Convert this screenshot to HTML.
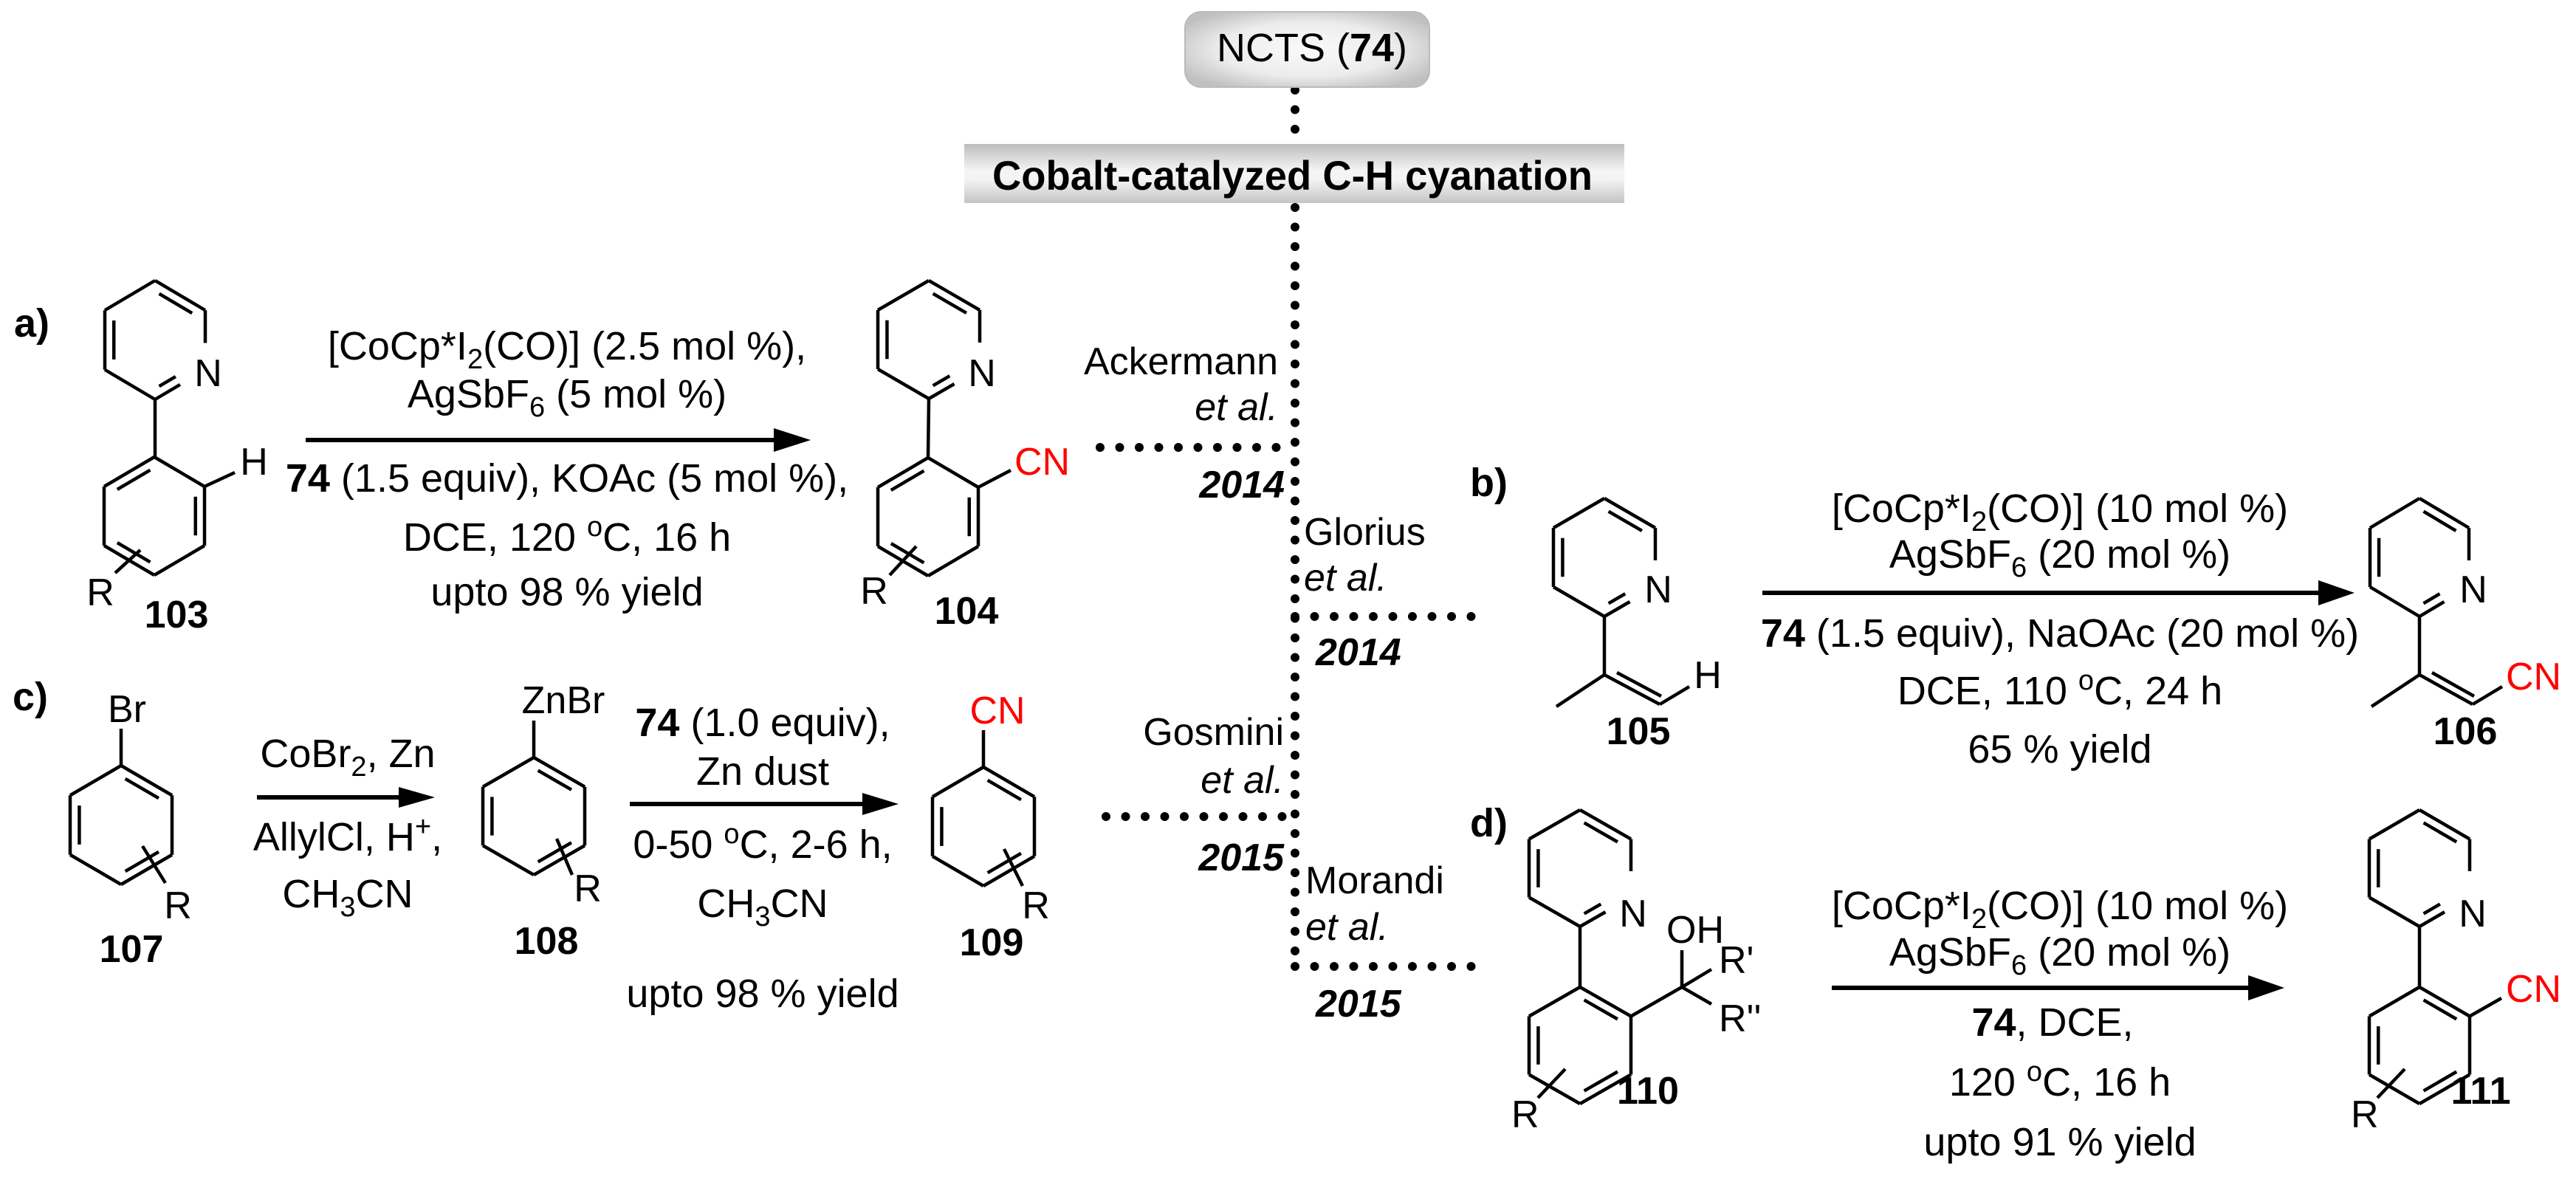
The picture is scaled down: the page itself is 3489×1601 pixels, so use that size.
<!DOCTYPE html>
<html><head><meta charset="utf-8">
<style>
html,body{margin:0;padding:0;background:#fff;}
svg{display:block;}
text{font-family:"Liberation Sans",Arial,sans-serif;fill:#000;}
.c{font-size:54px;text-anchor:middle;}
.b{font-weight:bold;}
.lab{font-size:52px;font-weight:bold;text-anchor:middle;}
.at{font-size:52px;}
.red{fill:#f00;}
</style></head>
<body>
<svg id="s" width="3489" height="1601" viewBox="0 0 3489 1601" xmlns="http://www.w3.org/2000/svg">
<defs>
<linearGradient id="gb" x1="0" y1="0" x2="0" y2="1">
<stop offset="0" stop-color="#bdbdbd"/><stop offset="0.45" stop-color="#f4f4f4"/><stop offset="0.6" stop-color="#f4f4f4"/><stop offset="1" stop-color="#c4c4c4"/>
</linearGradient>
<radialGradient id="gn" cx="0.5" cy="0.5" r="0.6">
<stop offset="0" stop-color="#fafafa"/><stop offset="0.6" stop-color="#ececec"/><stop offset="1" stop-color="#c0c0c0"/>
</radialGradient>
</defs>

<g stroke="#000" stroke-linecap="round" fill="none">
<g stroke-width="12" stroke-dasharray="0 26.5">
<line x1="1754" y1="122" x2="1754" y2="1309"/>
<line x1="1490" y1="606" x2="1754" y2="606"/>
<line x1="1754" y1="835" x2="2019" y2="835"/>
<line x1="1498" y1="1106" x2="1754" y2="1106"/>
<line x1="1754" y1="1309" x2="2006" y2="1309"/>
</g>
</g>

<rect x="1605" y="16" width="331" height="102" rx="22" fill="url(#gn)" stroke="#bbb" stroke-width="2"/>
<text x="1777" y="83" style="font-size:54px;text-anchor:middle">NCTS (<tspan class="b">74</tspan>)</text>
<rect x="1306" y="195" width="894" height="80" fill="url(#gb)"/>
<text x="1344" y="257" class="b" style="font-size:56px" textLength="813" lengthAdjust="spacingAndGlyphs">Cobalt-catalyzed C-H cyanation</text>

<g id="bonds" stroke="#000" stroke-width="4.5" fill="none" stroke-linecap="butt" stroke-linejoin="miter"></g>

<g stroke="#000" stroke-width="6">
<line x1="414" y1="596" x2="1060" y2="596"/>
<line x1="2387" y1="803" x2="3150" y2="803"/>
<line x1="348" y1="1080" x2="552" y2="1080"/>
<line x1="853" y1="1089" x2="1180" y2="1089"/>
<line x1="2481" y1="1338" x2="3056" y2="1338"/>
</g>
<g fill="#000">
<polygon points="1098,596 1048,580 1048,612"/>
<polygon points="3189,803 3140,786 3140,820"/>
<polygon points="589,1080 540,1066 540,1094"/>
<polygon points="1217,1089 1168,1074 1168,1104"/>
<polygon points="3094,1338 3045,1321 3045,1355"/>
</g>

<text x="19" y="456" class="b" style="font-size:54px">a)</text>
<text x="1991" y="672" class="b" style="font-size:54px">b)</text>
<text x="17" y="962" class="b" style="font-size:54px">c)</text>
<text x="1991" y="1133" class="b" style="font-size:54px">d)</text>

<text class="c" x="768" y="487">[CoCp*I<tspan font-size="38" dy="12">2</tspan><tspan dy="-12">(CO)] (2.5 mol %),</tspan></text>
<text class="c" x="768" y="552">AgSbF<tspan font-size="38" dy="12">6</tspan><tspan dy="-12"> (5 mol %)</tspan></text>
<text class="c" x="768" y="666"><tspan class="b">74</tspan> (1.5 equiv), KOAc (5 mol %),</text>
<text class="c" x="768" y="746">DCE, 120 <tspan font-size="38" dy="-20">o</tspan><tspan dy="20">C, 16 h</tspan></text>
<text class="c" x="768" y="820">upto 98 % yield</text>

<text class="at" x="282" y="523" text-anchor="middle">N</text>
<text class="at" x="344" y="643" text-anchor="middle">H</text>
<text class="at" x="136" y="820" text-anchor="middle">R</text>
<text class="lab" x="239" y="850">103</text>

<text class="at" x="1330" y="523" text-anchor="middle">N</text>
<text class="at red" x="1374" y="643">CN</text>
<text class="at" x="1184" y="818" text-anchor="middle">R</text>
<text class="lab" x="1309" y="845">104</text>

<text class="at" x="1731" y="507" text-anchor="end">Ackermann</text>
<text class="at" x="1731" y="569" text-anchor="end" font-style="italic">et al.</text>
<text class="at b" x="1740" y="674" text-anchor="end" font-style="italic">2014</text>

<text class="at" x="1766" y="738">Glorius</text>
<text class="at" x="1766" y="800" font-style="italic">et al.</text>
<text class="at b" x="1782" y="901" font-style="italic">2014</text>

<text class="at" x="1739" y="1009" text-anchor="end">Gosmini</text>
<text class="at" x="1739" y="1074" text-anchor="end" font-style="italic">et al.</text>
<text class="at b" x="1739" y="1179" text-anchor="end" font-style="italic">2015</text>

<text class="at" x="1768" y="1210">Morandi</text>
<text class="at" x="1768" y="1273" font-style="italic">et al.</text>
<text class="at b" x="1782" y="1377" font-style="italic">2015</text>

<text class="c" x="2790" y="707">[CoCp*I<tspan font-size="38" dy="12">2</tspan><tspan dy="-12">(CO)] (10 mol %)</tspan></text>
<text class="c" x="2790" y="769">AgSbF<tspan font-size="38" dy="12">6</tspan><tspan dy="-12"> (20 mol %)</tspan></text>
<text class="c" x="2790" y="876"><tspan class="b">74</tspan> (1.5 equiv), NaOAc (20 mol %)</text>
<text class="c" x="2790" y="954">DCE, 110 <tspan font-size="38" dy="-20">o</tspan><tspan dy="20">C, 24 h</tspan></text>
<text class="c" x="2790" y="1033">65 % yield</text>
<text class="at" x="2246" y="816" text-anchor="middle">N</text>
<text class="at" x="2313" y="932" text-anchor="middle">H</text>
<text class="lab" x="2219" y="1008">105</text>
<text class="at" x="3350" y="816" text-anchor="middle">N</text>
<text class="at red" x="3394" y="934">CN</text>
<text class="lab" x="3339" y="1008">106</text>

<text class="at" x="172" y="978" text-anchor="middle">Br</text>
<text class="at" x="241" y="1244" text-anchor="middle">R</text>
<text class="lab" x="178" y="1303">107</text>
<text class="c" x="471" y="1039">CoBr<tspan font-size="38" dy="12">2</tspan><tspan dy="-12">, Zn</tspan></text>
<text class="c" x="471" y="1152">AllylCl, H<tspan font-size="38" dy="-20">+</tspan><tspan dy="20">,</tspan></text>
<text class="c" x="471" y="1229">CH<tspan font-size="38" dy="12">3</tspan><tspan dy="-12">CN</tspan></text>
<text class="at" x="763" y="966" text-anchor="middle">ZnBr</text>
<text class="at" x="796" y="1221" text-anchor="middle">R</text>
<text class="lab" x="740" y="1292">108</text>
<text class="c" x="1033" y="997"><tspan class="b">74</tspan> (1.0 equiv),</text>
<text class="c" x="1033" y="1063">Zn dust</text>
<text class="c" x="1033" y="1162">0-50 <tspan font-size="38" dy="-20">o</tspan><tspan dy="20">C, 2-6 h,</tspan></text>
<text class="c" x="1033" y="1242">CH<tspan font-size="38" dy="12">3</tspan><tspan dy="-12">CN</tspan></text>
<text class="c" x="1033" y="1364">upto 98 % yield</text>
<text class="at red" x="1351" y="980" text-anchor="middle">CN</text>
<text class="at" x="1403" y="1244" text-anchor="middle">R</text>
<text class="lab" x="1343" y="1294">109</text>

<text class="at" x="2212" y="1255" text-anchor="middle">N</text>
<text class="at" x="2257" y="1277">OH</text>
<text class="at" x="2328" y="1318">R'</text>
<text class="at" x="2328" y="1397">R''</text>
<text class="at" x="2047" y="1527">R</text>
<text class="lab" x="2232" y="1495" text-anchor="start">110</text>
<text class="c" x="2790" y="1245">[CoCp*I<tspan font-size="38" dy="12">2</tspan><tspan dy="-12">(CO)] (10 mol %)</tspan></text>
<text class="c" x="2790" y="1308">AgSbF<tspan font-size="38" dy="12">6</tspan><tspan dy="-12"> (20 mol %)</tspan></text>
<text class="c" x="2780" y="1403"><tspan class="b">74</tspan>, DCE,</text>
<text class="c" x="2790" y="1484">120 <tspan font-size="38" dy="-20">o</tspan><tspan dy="20">C, 16 h</tspan></text>
<text class="c" x="2790" y="1565">upto 91 % yield</text>
<text class="at" x="3349" y="1255" text-anchor="middle">N</text>
<text class="at red" x="3394" y="1357">CN</text>
<text class="at" x="3184" y="1527">R</text>
<text class="lab" x="3360" y="1495" text-anchor="start">111</text>
</svg>
<script>
(function(){
var g=document.getElementById('bonds');var NS='http://www.w3.org/2000/svg';
function L(a,b,c,d){var l=document.createElementNS(NS,'line');l.setAttribute('x1',a);l.setAttribute('y1',b);l.setAttribute('x2',c);l.setAttribute('y2',d);g.appendChild(l);}
function lerp(p,q,t){return [p[0]+(q[0]-p[0])*t,p[1]+(q[1]-p[1])*t];}
function ring(cx,t,h,w,dbl,n){
 var v=[[cx,t],[cx+w,t+h/4],[cx+w,t+3*h/4],[cx,t+h],[cx-w,t+3*h/4],[cx-w,t+h/4]];
 var C=[cx,t+h/2];
 for(var i=0;i<6;i++){
  var p=v[i],q=v[(i+1)%6],s=0,e=1;
  if(n&&i==1){e=0.55;} if(n&&i==2){s=0.5;}
  var P=lerp(p,q,s),Q=lerp(p,q,e);L(P[0],P[1],Q[0],Q[1]);
  if(dbl.indexOf(i)>=0){
   var pi=lerp(p,C,0.18),qi=lerp(q,C,0.18);
   var s2=Math.max(s,0.1),e2=Math.min(e,0.9);
   var A=lerp(pi,qi,s2),B=lerp(pi,qi,e2);L(A[0],A[1],B[0],B[1]);
  }
 }
 return v;
}
var PA=[0,2,4],PB=[5,1,3];
ring(210,380,161,68,PA,true);L(210,541,210,619);
var b=ring(209,619,160,68,PB,false);L(b[1][0],b[1][1],318,640);L(156,776,190,745);
ring(1258,380,160,69,PA,true);L(1258,540,1257,620);
b=ring(1257,620,160,68,PB,false);L(b[1][0],b[1][1],1369,637);L(1205,779,1241,740);
ring(2173,675,160,69,PA,true);L(2173,835,2173,914);L(2173,914,2108,957);L(2173,914,2248,954);L(2190,911,2250,943);L(2248,954,2288,930);
ring(3277,675,160,67,PA,true);L(3277,835,3277,914);L(3277,914,3212,957);L(3277,914,3349,954);L(3294,911,3351,943);L(3349,954,3389,930);
L(164,987,164,1037);ring(164,1037,161,69,PA,false);L(193,1146,224,1196);
L(723,976,723,1026);ring(723,1026,159,69,PA,false);L(754,1136,775,1185);
L(1332,989,1332,1039);ring(1332,1039,161,69,PA,false);L(1360,1150,1385,1200);
ring(2140,1097,158,69,PA,true);L(2140,1255,2140,1337);
b=ring(2140,1337,158,69,PA,false);L(b[1][0],b[1][1],2278,1337);L(2278,1337,2278,1287);L(2278,1337,2318,1313);L(2278,1337,2318,1360);L(2083,1487,2120,1448);
ring(3277,1097,158,68,PA,true);L(3277,1255,3277,1337);
b=ring(3277,1337,158,68,PA,false);L(b[1][0],b[1][1],3388,1352);L(3220,1487,3257,1448);
})();
</script>
</body></html>
